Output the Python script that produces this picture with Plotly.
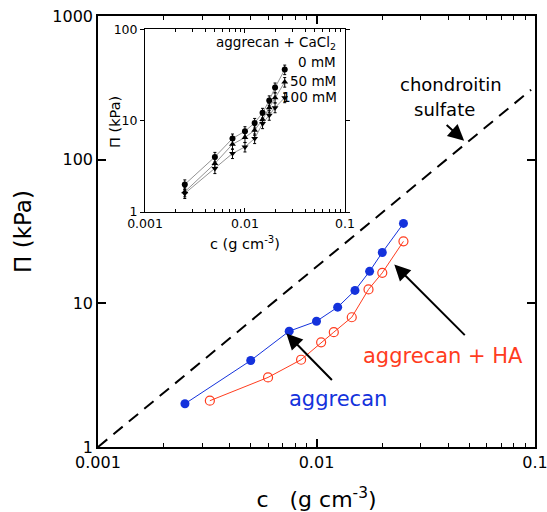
import math
import plotly.graph_objects as go

# ---- main panel data ----
c_agg = [0.0025, 0.005, 0.0075, 0.01, 0.0125, 0.015, 0.0175, 0.02, 0.025]
pi_agg = [2.0, 4.0, 6.4, 7.5, 9.4, 12.3, 16.7, 22.6, 36.0]
c_ha = [0.00325, 0.006, 0.0085, 0.0105, 0.012, 0.0145, 0.0173, 0.02, 0.025]
pi_ha = [2.1, 3.05, 4.05, 5.35, 6.3, 8.0, 12.5, 16.3, 27.0]
c_cs = [0.001, 0.096]
pi_cs = [1.0, 307.0]

# ---- inset data (aggrecan + CaCl2) ----
c_ins = [0.0025, 0.005, 0.0075, 0.01, 0.0125, 0.015, 0.0175, 0.02, 0.025]
pi_0mM = [2.01, 4.02, 6.39, 7.68, 9.46, 12.2, 16.7, 23.1, 36.3]
pi_50mM = [1.67, 3.40, 5.53, 6.55, 7.87, 10.3, 13.9, 17.9, 26.5]
pi_100mM = [1.60, 3.00, 4.38, 5.17, 6.39, 9.31, 11.5, 13.9, 17.9]

main_x_ticks = [0.001, 0.01, 0.1]
main_x_labels = ["0.001", "0.01", "0.1"]
main_y_ticks = [1, 10, 100, 1000]
main_y_labels = ["1", "10", "100", "1000"]
inset_y_ticks = [1, 10, 100]
inset_y_labels = ["1", "10", "100"]
minor_x = [m * 10 ** e for e in (-3, -2) for m in range(2, 10)]

BLUE = "#1432dc"
RED = "#ff3c1e"
FONT = "DejaVu Sans"

fig = go.Figure()

fig.add_trace(go.Scatter(x=c_cs, y=pi_cs, mode="lines",
                         line=dict(color="black", width=2, dash="12px,8px"),
                         showlegend=False, hoverinfo="skip"))
fig.add_trace(go.Scatter(x=c_agg, y=pi_agg, mode="lines+markers",
                         line=dict(color=BLUE, width=1),
                         marker=dict(symbol="circle", size=9, color=BLUE),
                         showlegend=False))
fig.add_trace(go.Scatter(x=c_ha, y=pi_ha, mode="lines+markers",
                         line=dict(color=RED, width=1),
                         marker=dict(symbol="circle-open", size=9, color=RED,
                                     line=dict(width=1.2, color=RED)),
                         showlegend=False))

err = dict(type="percent", value=12, color="black", thickness=1, width=1.5)
for ys, sym in [(pi_0mM, "circle"), (pi_50mM, "triangle-up"), (pi_100mM, "triangle-down")]:
    fig.add_trace(go.Scatter(x=c_ins, y=ys, xaxis="x2", yaxis="y2",
                             mode="lines+markers",
                             line=dict(color="#777777", width=0.8),
                             marker=dict(symbol=sym, size=6, color="black"),
                             error_y=err, showlegend=False))

axis_common = dict(showline=True, linecolor="black", mirror="allticks",
                   showgrid=False, zeroline=False, tickcolor="black",
                   automargin=False, ticklabeloverflow="allow")

fig.update_layout(
    width=547, height=512,
    margin=dict(l=98, r=12, t=16, b=65),
    paper_bgcolor="white", plot_bgcolor="white",
    font=dict(family=FONT, color="black"),
    xaxis=dict(type="log", range=[-3, -1], domain=[0, 1],
               tickmode="array", tickvals=main_x_ticks, ticktext=main_x_labels,
               ticks="inside", ticklen=8, tickwidth=1.5, linewidth=1.5,
               tickfont=dict(size=16),
               minor=dict(tickmode="array", tickvals=minor_x, ticks="inside",
                          ticklen=4, tickwidth=1, tickcolor="black"),
               title=dict(text="c   (g cm<sup>-3</sup>)", font=dict(size=22), standoff=21),
               **axis_common),
    yaxis=dict(type="log", range=[0, 3], domain=[0, 1],
               tickmode="array", tickvals=main_y_ticks, ticktext=main_y_labels,
               ticks="inside", ticklen=8, tickwidth=1.5, linewidth=1.5,
               tickfont=dict(size=16),
               title=dict(text="Π (kPa)", font=dict(size=23), standoff=14),
               **axis_common),
    xaxis2=dict(type="log", range=[-3, -1], domain=[0.1076, 0.565], anchor="y2",
                tickmode="array", tickvals=main_x_ticks, ticktext=main_x_labels,
                ticks="inside", ticklen=4, tickwidth=1, linewidth=1,
                tickfont=dict(size=12.5),
                minor=dict(tickmode="array", tickvals=minor_x, ticks="inside",
                           ticklen=3, tickwidth=1, tickcolor="black"),
                title=dict(text="c (g cm<sup>-3</sup>)", font=dict(size=14.5), standoff=8),
                **axis_common),
    yaxis2=dict(type="log", range=[0, 2], domain=[0.545, 0.969], anchor="x2",
                tickmode="array", tickvals=inset_y_ticks, ticktext=inset_y_labels,
                ticks="outside", ticklen=4, tickwidth=1, linewidth=1,
                tickfont=dict(size=12.5),
                **axis_common),
)

def px2paper(px, py):
    # page pixel -> paper fraction of the main plot area (98..535, 16..447)
    return (px - 98) / 437.0, (447 - py) / 431.0

annots = []
# text labels
for txt, (px, py), size, color, anchor in [
    ("chondroitin", (451, 84), 18, "black", "center"),
    ("sulfate", (444, 110), 18, "black", "center"),
    ("aggrecan", (338, 399), 21, BLUE, "center"),
    ("aggrecan + HA", (443, 356), 21, RED, "center"),
    ("aggrecan + CaCl<sub>2</sub>", (338, 43), 13.5, "black", "right"),
    ("0 mM", (338, 62), 13.5, "black", "right"),
    ("50 mM", (338, 81), 13.5, "black", "right"),
    ("100 mM", (339, 97), 13.5, "black", "right"),
]:
    xp, yp = px2paper(px, py)
    annots.append(dict(x=xp, y=yp, xref="paper", yref="paper", text=txt,
                       showarrow=False, xanchor=anchor, yanchor="middle",
                       font=dict(size=size, color=color, family=FONT)))

# inset y-axis title
xp, yp = px2paper(115, 122)
annots.append(dict(x=xp, y=yp, xref="paper", yref="paper", text="Π (kPa)",
                   textangle=-90, showarrow=False, xanchor="center", yanchor="middle",
                   font=dict(size=14.5, color="black", family=FONT)))

# arrows (head in data coordinates, tail as pixel offset)
for (hc, hp), (ax, ay) in [((0.0474, 135.5), (-19, -17)),
                           ((0.00728, 6.16), (47, 48)),
                           ((0.0227, 18.6), (72, 72))]:
    annots.append(dict(x=math.log10(hc), y=math.log10(hp), xref="x", yref="y",
                       ax=ax, ay=ay, text="", showarrow=True, arrowhead=2,
                       arrowsize=1.6, arrowwidth=2, arrowcolor="black", standoff=0))

fig.update_layout(annotations=annots)
# remove the default page margin so the 547x512 figure fills the window exactly
fig.write_html("out.html",
               config={"displayModeBar": False},
               post_script="document.body.style.margin='0';document.body.style.overflow='hidden';")
